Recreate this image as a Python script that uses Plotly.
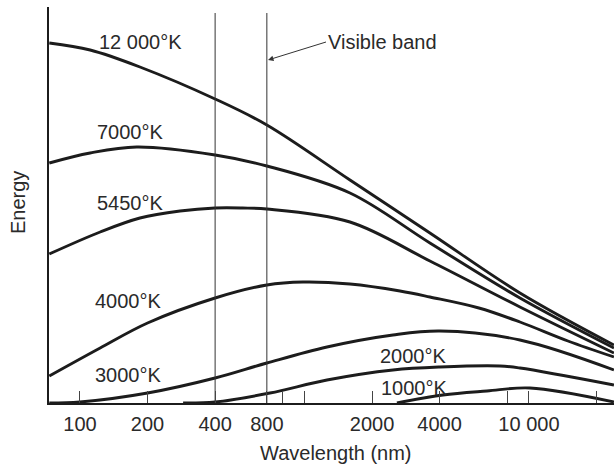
import plotly.graph_objects as go

# ---- data (wavelength in nm, energy in arbitrary units) ----
wl_12000 = [73, 111, 185, 400, 680, 1595, 3622, 9120, 23920]
en_12000 = [360, 353, 336, 304, 278, 223, 170, 110, 58]

wl_7000 = [73, 111, 179, 400, 680, 1595, 3622, 9120, 23920]
en_7000 = [240, 250, 256, 248, 237, 210, 160, 105, 55]

wl_5450 = [73, 123, 185, 279, 400, 530, 680, 1595, 3622, 9120, 23920]
en_5450 = [149, 171, 185, 192, 195, 195, 194, 181, 142, 96, 50]

wl_4000 = [73, 123, 200, 400, 680, 985, 1595, 2664, 3622, 5985, 9120, 14920, 23920]
en_4000 = [27, 55, 80, 105, 118, 121, 119, 112, 106, 95, 81, 62, 46]

wl_3000 = [73, 100, 200, 400, 680, 1260, 2479, 4013, 9120, 23920]
en_3000 = [0, 1, 10, 25, 40, 56, 68, 72, 63, 33]

wl_2000 = [288, 400, 702, 1260, 2479, 4013, 7427, 9120, 23920]
en_2000 = [0, 1, 10, 23, 33, 36, 37, 35, 18]

wl_1000 = [2582, 4140, 6500, 10100, 23920]
en_1000 = [0, 8, 12, 15, 1]

curve_labels = ["12 000°K", "7000°K", "5450°K", "4000°K", "3000°K", "2000°K", "1000°K"]

band_edges = [400, 680]
band_top = 390

tick_vals = [100, 200, 400, 680, 2000, 4000, 10000]
tick_text = ["100", "200", "400", "800", "2000", "4000", "10 000"]
minor_vals = [800, 1000, 8000, 20000]

# ---- figure ----
W, H = 614, 469
ML, MR, MT, MB = 49, 0, 7, 66
PW, PH = W - ML - MR, H - MT - MB

def px2paper(px, py):
    return (px - ML) / PW, (H - MB - py) / PH

INK = "#1c1c1c"
TXT = "#2a2a2a"
FONT = "Liberation Sans, Arial, Helvetica, sans-serif"
FS = 20

fig = go.Figure()

for wl, en in [(wl_12000, en_12000), (wl_7000, en_7000), (wl_5450, en_5450),
               (wl_4000, en_4000), (wl_3000, en_3000), (wl_2000, en_2000),
               (wl_1000, en_1000)]:
    fig.add_trace(go.Scatter(x=wl, y=en, mode="lines",
                             line=dict(color=INK, width=2.9, shape="spline", smoothing=1.0),
                             hoverinfo="skip", showlegend=False))

for b in band_edges:
    fig.add_trace(go.Scatter(x=[b, b], y=[0, band_top], mode="lines",
                             line=dict(color="#333333", width=1),
                             hoverinfo="skip", showlegend=False))

annotations = []
label_pos = [(140, 42), (130, 132), (130, 203), (128, 301), (128, 375), (413, 356), (414, 388)]
for txt, (lx, ly) in zip(curve_labels, label_pos):
    x, y = px2paper(lx, ly)
    annotations.append(dict(x=x, y=y, xref="paper", yref="paper", text=txt,
                            showarrow=False, xanchor="center", yanchor="middle",
                            font=dict(family=FONT, size=FS, color=TXT)))

# visible band pointer
hx, hy = px2paper(268, 60)
annotations.append(dict(x=hx, y=hy, xref="paper", yref="paper", text="Visible band",
                        showarrow=True, arrowhead=2, arrowsize=1.1, arrowwidth=1,
                        arrowcolor="#333333", ax=58, ay=-18, xanchor="left", yanchor="middle",
                        font=dict(family=FONT, size=FS, color=TXT)))

# axis titles
x, y = px2paper(18, 203)
annotations.append(dict(x=x, y=y, xref="paper", yref="paper", text="Energy", textangle=-90,
                        showarrow=False, xanchor="center", yanchor="middle",
                        font=dict(family=FONT, size=FS, color=TXT)))
x, y = px2paper(336, 453)
annotations.append(dict(x=x, y=y, xref="paper", yref="paper", text="Wavelength (nm)",
                        showarrow=False, xanchor="center", yanchor="middle",
                        font=dict(family=FONT, size=FS, color=TXT)))

fig.update_layout(
    width=W, height=H,
    margin=dict(l=ML, r=MR, t=MT, b=MB, pad=0),
    paper_bgcolor="white", plot_bgcolor="white",
    showlegend=False,
    annotations=annotations,
    xaxis=dict(type="log", range=[1.862, 4.379], showgrid=False, zeroline=False,
               showline=True, linecolor=INK, linewidth=2,
               tickmode="array", tickvals=tick_vals, ticktext=tick_text,
               ticks="inside", ticklen=12, tickwidth=1, tickcolor="#444444",
               ticklabelstandoff=2,
               tickfont=dict(family=FONT, size=FS, color=TXT),
               minor=dict(tickmode="array", tickvals=minor_vals, ticks="inside",
                          ticklen=12, tickwidth=1, tickcolor="#444444", showgrid=False)),
    yaxis=dict(range=[0, 396], showgrid=False, zeroline=False, showline=True,
               linecolor=INK, linewidth=2, showticklabels=False, ticks=""),
)

fig.write_html("out.html", config={"displayModeBar": False, "staticPlot": True},
               post_script="document.body.style.margin='0';document.body.style.overflow='hidden';")
